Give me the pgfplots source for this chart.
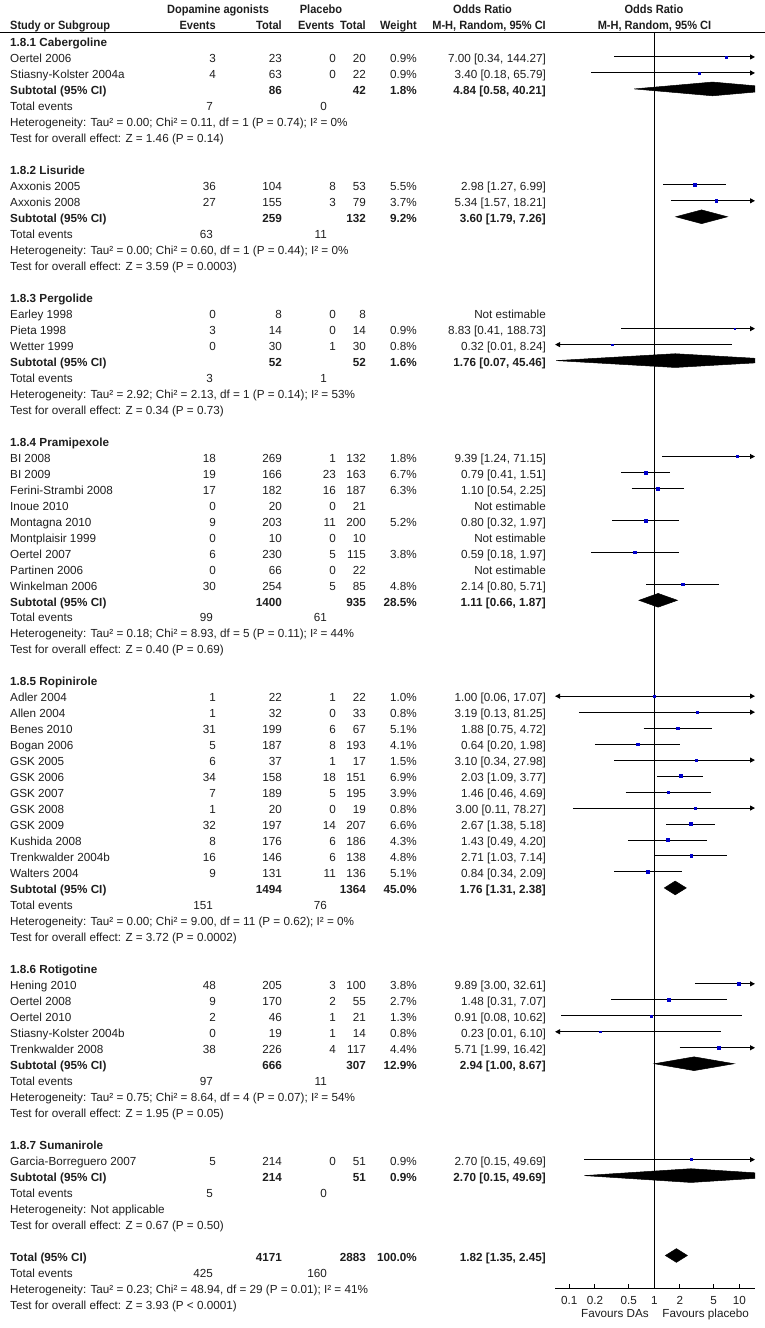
\documentclass[border=0pt]{standalone}
\usepackage{fontspec}
\setmainfont{Liberation Sans}
\newfontfamily\hfont[FakeStretch=0.92]{Liberation Sans}
\usepackage{pgfplots}
\pgfplotsset{compat=1.18}
\usetikzlibrary{arrows.meta}
\definecolor{txt}{HTML}{1E1E1E}
\definecolor{sq}{HTML}{0000CC}
\newcommand\fs{\fontsize{11.7bp}{14bp}\selectfont}
\newcommand\hs{\fontsize{12bp}{14bp}\selectfont\hfont\bfseries}
% text helpers (pixel units, y downwards)
\newcommand\lt[2]{\node[anchor=base west] at (10,{30.72+15.98*#1}) {#2};}
\newcommand\rt[3]{\node[anchor=base east] at (#1,{30.72+15.98*#2}) {#3};}
\newcommand\study[8]{\lt{#1}{#2}\rt{216}{#1}{#3}\rt{282}{#1}{#4}\rt{336}{#1}{#5}\rt{366}{#1}{#6}\rt{417}{#1}{#7}\rt{546}{#1}{#8}}
\newcommand\subt[6]{\lt{#1}{\bfseries #2}\rt{282}{#1}{\bfseries #3}\rt{366}{#1}{\bfseries #4}\rt{417}{#1}{\bfseries #5}\rt{546}{#1}{\bfseries #6}}
\newcommand\tev[3]{\lt{#1}{Total events}\rt{213}{#1}{#2}\rt{327}{#1}{#3}}
\begin{document}
\begin{tikzpicture}
\path[use as bounding box] (0,0) rectangle (765bp,-1328bp);
\begin{axis}[
  at={(555bp,-1288bp)}, anchor=south west,
  scale only axis, width=200bp, height=1256bp,
  xmode=log, xmin=0.06788, xmax=15.30,
  ymin=-79.035, ymax=-0.4368,
  axis x line*=bottom, axis y line=none,
  xtick={0.1,0.2,0.5,1,2,5,10}, xticklabels={0.1,0.2,0.5,1,2,5,10},
  xminorticks=false, xtick align=inside, major tick length=4bp,
  xticklabel style={font=\fs, text=txt, inner sep=0pt, yshift=-7.8bp},
  axis line style={line width=1bp, black},
  every tick/.style={black, line width=1bp},
  ytick=\empty,
  ci/.style={black, line width=1bp},
  ar/.style={black, line width=1bp, -{Triangle[length=5bp,width=5bp]}},
  al/.style={black, line width=1bp, {Triangle[length=5bp,width=5bp]}-},
  ab/.style={black, line width=1bp, {Triangle[length=5bp,width=5bp]}-{Triangle[length=5bp,width=5bp]}},
  dia/.style={fill=black, draw=black, line width=0.5bp},
]
% line of no effect
\addplot[black, line width=1bp] coordinates {(1,-0.4368) (1,-79.035)};
% confidence intervals
\addplot[ar] coordinates {(0.34,-2) (15.3,-2)};
\addplot[ar] coordinates {(0.18,-3) (15.3,-3)};
\addplot[ci] coordinates {(1.27,-10) (6.99,-10)};
\addplot[ar] coordinates {(1.57,-11) (15.3,-11)};
\addplot[ar] coordinates {(0.41,-19) (15.3,-19)};
\addplot[al] coordinates {(0.068,-20) (8.24,-20)};
\addplot[ar] coordinates {(1.24,-27) (15.3,-27)};
\addplot[ci] coordinates {(0.41,-28) (1.51,-28)};
\addplot[ci] coordinates {(0.54,-29) (2.25,-29)};
\addplot[ci] coordinates {(0.32,-31) (1.97,-31)};
\addplot[ci] coordinates {(0.18,-33) (1.97,-33)};
\addplot[ci] coordinates {(0.80,-35) (5.71,-35)};
\addplot[ab] coordinates {(0.068,-42) (15.3,-42)};
\addplot[ar] coordinates {(0.13,-43) (15.3,-43)};
\addplot[ci] coordinates {(0.75,-44) (4.72,-44)};
\addplot[ci] coordinates {(0.20,-45) (1.98,-45)};
\addplot[ar] coordinates {(0.34,-46) (15.3,-46)};
\addplot[ci] coordinates {(1.09,-47) (3.77,-47)};
\addplot[ci] coordinates {(0.46,-48) (4.69,-48)};
\addplot[ar] coordinates {(0.11,-49) (15.3,-49)};
\addplot[ci] coordinates {(1.38,-50) (5.18,-50)};
\addplot[ci] coordinates {(0.49,-51) (4.20,-51)};
\addplot[ci] coordinates {(1.03,-52) (7.14,-52)};
\addplot[ci] coordinates {(0.34,-53) (2.09,-53)};
\addplot[ar] coordinates {(3.00,-60) (15.3,-60)};
\addplot[ci] coordinates {(0.31,-61) (7.07,-61)};
\addplot[ci] coordinates {(0.08,-62) (10.62,-62)};
\addplot[al] coordinates {(0.068,-63) (6.10,-63)};
\addplot[ar] coordinates {(1.99,-64) (15.3,-64)};
\addplot[ar] coordinates {(0.15,-71) (15.3,-71)};
% study estimates
\addplot[scatter, only marks, mark=square*,
  scatter/use mapped color={draw=sq, fill=sq},
  visualization depends on={0.6+0.35*sqrt(\thisrow{w}) \as \msz},
  scatter/@pre marker code/.append style={/tikz/mark size=\msz}]
  table[x=or, y=y] {
or    y    w
7.00  -2   0.9
3.40  -3   0.9
2.98  -10  5.5
5.34  -11  3.7
8.83  -19  0.9
0.32  -20  0.8
9.39  -27  1.8
0.79  -28  6.7
1.10  -29  6.3
0.80  -31  5.2
0.59  -33  3.8
2.14  -35  4.8
1.00  -42  1.0
3.19  -43  0.8
1.88  -44  5.1
0.64  -45  4.1
3.10  -46  1.5
2.03  -47  6.9
1.46  -48  3.9
3.00  -49  0.8
2.67  -50  6.6
1.43  -51  4.3
2.71  -52  4.8
0.84  -53  5.1
9.89  -60  3.8
1.48  -61  2.7
0.91  -62  1.3
0.23  -63  0.8
5.71  -64  4.4
2.70  -71  0.9
};
% pooled estimates
\addplot[dia] coordinates {(0.58,-4) (4.84,-3.57) (40.21,-4) (4.84,-4.43)} -- cycle;
\addplot[dia] coordinates {(1.79,-12) (3.60,-11.57) (7.26,-12) (3.60,-12.43)} -- cycle;
\addplot[dia] coordinates {(0.07,-21) (1.76,-20.57) (45.46,-21) (1.76,-21.43)} -- cycle;
\addplot[dia] coordinates {(0.66,-36) (1.11,-35.57) (1.87,-36) (1.11,-36.43)} -- cycle;
\addplot[dia] coordinates {(1.31,-54) (1.76,-53.57) (2.38,-54) (1.76,-54.43)} -- cycle;
\addplot[dia] coordinates {(1.00,-65) (2.94,-64.57) (8.67,-65) (2.94,-65.43)} -- cycle;
\addplot[dia] coordinates {(0.15,-72) (2.70,-71.57) (49.69,-72) (2.70,-72.43)} -- cycle;
\addplot[dia] coordinates {(1.35,-77) (1.82,-76.57) (2.45,-77) (1.82,-77.43)} -- cycle;
\end{axis}
\begin{scope}[x=1bp, y=-1bp, every node/.style={font=\fs, text=txt, inner sep=0pt}]
% header
\node[anchor=base, font=\hs] at (218,13.8) {Dopamine agonists};
\node[anchor=base, font=\hs] at (321,13.8) {Placebo};
\node[anchor=base, font=\hs] at (482.5,13.8) {Odds Ratio};
\node[anchor=base, font=\hs] at (654,13.8) {Odds Ratio};
\node[anchor=base west, font=\hs] at (10,29.2) {Study or Subgroup};
\node[anchor=base east, font=\hs] at (216,29.2) {Events};
\node[anchor=base east, font=\hs] at (282,29.2) {Total};
\node[anchor=base east, font=\hs] at (334.5,29.2) {Events};
\node[anchor=base east, font=\hs] at (366,29.2) {Total};
\node[anchor=base east, font=\hs] at (417,29.2) {Weight};
\node[anchor=base east, font=\hs] at (546,29.2) {M-H, Random, 95\% CI};
\node[anchor=base, font=\hs] at (654.5,29.2) {M-H, Random, 95\% CI};
\draw[line width=1bp] (0,32.3) -- (765,32.3);
% 1.8.1
\lt{1}{\bfseries 1.8.1 Cabergoline}
\study{2}{Oertel 2006}{3}{23}{0}{20}{0.9\%}{7.00 [0.34, 144.27]}
\study{3}{Stiasny-Kolster 2004a}{4}{63}{0}{22}{0.9\%}{3.40 [0.18, 65.79]}
\subt{4}{Subtotal (95\% CI)}{86}{42}{1.8\%}{4.84 [0.58, 40.21]}
\tev{5}{7}{0}
\lt{6}{Heterogeneity: Tau² = 0.00; Chi² = 0.11, df = 1 (P = 0.74); I² = 0\%}
\lt{7}{Test for overall effect: Z = 1.46 (P = 0.14)}
% 1.8.2
\lt{9}{\bfseries 1.8.2 Lisuride}
\study{10}{Axxonis 2005}{36}{104}{8}{53}{5.5\%}{2.98 [1.27, 6.99]}
\study{11}{Axxonis 2008}{27}{155}{3}{79}{3.7\%}{5.34 [1.57, 18.21]}
\subt{12}{Subtotal (95\% CI)}{259}{132}{9.2\%}{3.60 [1.79, 7.26]}
\tev{13}{63}{11}
\lt{14}{Heterogeneity: Tau² = 0.00; Chi² = 0.60, df = 1 (P = 0.44); I² = 0\%}
\lt{15}{Test for overall effect: Z = 3.59 (P = 0.0003)}
% 1.8.3
\lt{17}{\bfseries 1.8.3 Pergolide}
\study{18}{Earley 1998}{0}{8}{0}{8}{}{Not estimable}
\study{19}{Pieta 1998}{3}{14}{0}{14}{0.9\%}{8.83 [0.41, 188.73]}
\study{20}{Wetter 1999}{0}{30}{1}{30}{0.8\%}{0.32 [0.01, 8.24]}
\subt{21}{Subtotal (95\% CI)}{52}{52}{1.6\%}{1.76 [0.07, 45.46]}
\tev{22}{3}{1}
\lt{23}{Heterogeneity: Tau² = 2.92; Chi² = 2.13, df = 1 (P = 0.14); I² = 53\%}
\lt{24}{Test for overall effect: Z = 0.34 (P = 0.73)}
% 1.8.4
\lt{26}{\bfseries 1.8.4 Pramipexole}
\study{27}{BI 2008}{18}{269}{1}{132}{1.8\%}{9.39 [1.24, 71.15]}
\study{28}{BI 2009}{19}{166}{23}{163}{6.7\%}{0.79 [0.41, 1.51]}
\study{29}{Ferini-Strambi 2008}{17}{182}{16}{187}{6.3\%}{1.10 [0.54, 2.25]}
\study{30}{Inoue 2010}{0}{20}{0}{21}{}{Not estimable}
\study{31}{Montagna 2010}{9}{203}{11}{200}{5.2\%}{0.80 [0.32, 1.97]}
\study{32}{Montplaisir 1999}{0}{10}{0}{10}{}{Not estimable}
\study{33}{Oertel 2007}{6}{230}{5}{115}{3.8\%}{0.59 [0.18, 1.97]}
\study{34}{Partinen 2006}{0}{66}{0}{22}{}{Not estimable}
\study{35}{Winkelman 2006}{30}{254}{5}{85}{4.8\%}{2.14 [0.80, 5.71]}
\subt{36}{Subtotal (95\% CI)}{1400}{935}{28.5\%}{1.11 [0.66, 1.87]}
\tev{37}{99}{61}
\lt{38}{Heterogeneity: Tau² = 0.18; Chi² = 8.93, df = 5 (P = 0.11); I² = 44\%}
\lt{39}{Test for overall effect: Z = 0.40 (P = 0.69)}
% 1.8.5
\lt{41}{\bfseries 1.8.5 Ropinirole}
\study{42}{Adler 2004}{1}{22}{1}{22}{1.0\%}{1.00 [0.06, 17.07]}
\study{43}{Allen 2004}{1}{32}{0}{33}{0.8\%}{3.19 [0.13, 81.25]}
\study{44}{Benes 2010}{31}{199}{6}{67}{5.1\%}{1.88 [0.75, 4.72]}
\study{45}{Bogan 2006}{5}{187}{8}{193}{4.1\%}{0.64 [0.20, 1.98]}
\study{46}{GSK 2005}{6}{37}{1}{17}{1.5\%}{3.10 [0.34, 27.98]}
\study{47}{GSK 2006}{34}{158}{18}{151}{6.9\%}{2.03 [1.09, 3.77]}
\study{48}{GSK 2007}{7}{189}{5}{195}{3.9\%}{1.46 [0.46, 4.69]}
\study{49}{GSK 2008}{1}{20}{0}{19}{0.8\%}{3.00 [0.11, 78.27]}
\study{50}{GSK 2009}{32}{197}{14}{207}{6.6\%}{2.67 [1.38, 5.18]}
\study{51}{Kushida 2008}{8}{176}{6}{186}{4.3\%}{1.43 [0.49, 4.20]}
\study{52}{Trenkwalder 2004b}{16}{146}{6}{138}{4.8\%}{2.71 [1.03, 7.14]}
\study{53}{Walters 2004}{9}{131}{11}{136}{5.1\%}{0.84 [0.34, 2.09]}
\subt{54}{Subtotal (95\% CI)}{1494}{1364}{45.0\%}{1.76 [1.31, 2.38]}
\tev{55}{151}{76}
\lt{56}{Heterogeneity: Tau² = 0.00; Chi² = 9.00, df = 11 (P = 0.62); I² = 0\%}
\lt{57}{Test for overall effect: Z = 3.72 (P = 0.0002)}
% 1.8.6
\lt{59}{\bfseries 1.8.6 Rotigotine}
\study{60}{Hening 2010}{48}{205}{3}{100}{3.8\%}{9.89 [3.00, 32.61]}
\study{61}{Oertel 2008}{9}{170}{2}{55}{2.7\%}{1.48 [0.31, 7.07]}
\study{62}{Oertel 2010}{2}{46}{1}{21}{1.3\%}{0.91 [0.08, 10.62]}
\study{63}{Stiasny-Kolster 2004b}{0}{19}{1}{14}{0.8\%}{0.23 [0.01, 6.10]}
\study{64}{Trenkwalder 2008}{38}{226}{4}{117}{4.4\%}{5.71 [1.99, 16.42]}
\subt{65}{Subtotal (95\% CI)}{666}{307}{12.9\%}{2.94 [1.00, 8.67]}
\tev{66}{97}{11}
\lt{67}{Heterogeneity: Tau² = 0.75; Chi² = 8.64, df = 4 (P = 0.07); I² = 54\%}
\lt{68}{Test for overall effect: Z = 1.95 (P = 0.05)}
% 1.8.7
\lt{70}{\bfseries 1.8.7 Sumanirole}
\study{71}{Garcia-Borreguero 2007}{5}{214}{0}{51}{0.9\%}{2.70 [0.15, 49.69]}
\subt{72}{Subtotal (95\% CI)}{214}{51}{0.9\%}{2.70 [0.15, 49.69]}
\tev{73}{5}{0}
\lt{74}{Heterogeneity: Not applicable}
\lt{75}{Test for overall effect: Z = 0.67 (P = 0.50)}
% total
\subt{77}{Total (95\% CI)}{4171}{2883}{100.0\%}{1.82 [1.35, 2.45]}
\tev{78}{425}{160}
\lt{79}{Heterogeneity: Tau² = 0.23; Chi² = 48.94, df = 29 (P = 0.01); I² = 41\%}
\lt{80}{Test for overall effect: Z = 3.93 (P < 0.0001)}
% favours
\node[anchor=base] at (615,1317.2) {Favours DAs};
\node[anchor=base] at (705.7,1317.2) {Favours placebo};
\end{scope}
\end{tikzpicture}
\end{document}
